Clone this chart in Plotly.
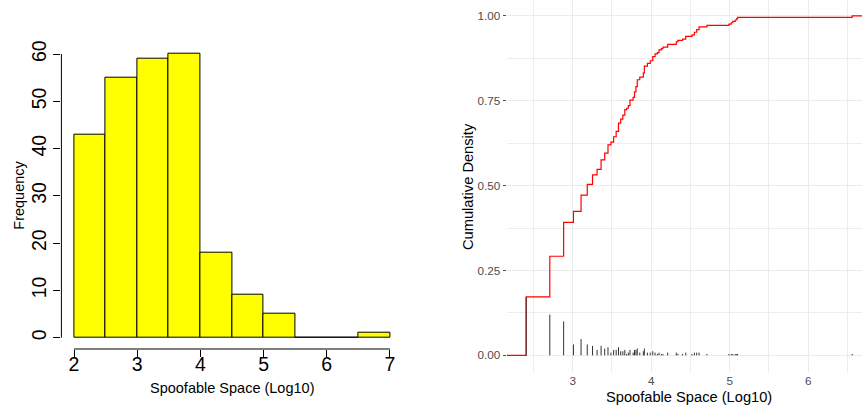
import numpy as np
import plotly.graph_objects as go

# ---- data: unique log10 spoofable-space values and how many prefixes have each ----
space_log10 = [2.408, 2.709, 2.885, 3.010, 3.107, 3.186, 3.253, 3.311, 3.362, 3.408,
               3.450, 3.487, 3.522, 3.554, 3.584, 3.612, 3.639, 3.664, 3.687, 3.709,
               3.730, 3.770, 3.788, 3.806, 3.823, 3.855, 3.900, 3.913, 3.952, 3.988,
               4.02, 4.05, 4.08, 4.10, 4.13, 4.15, 4.21, 4.32, 4.34, 4.40,
               4.44, 4.52, 4.55, 4.58, 4.61, 4.71, 4.99, 5.02, 5.04, 5.07,
               5.09, 5.10, 6.56]
space_count = [43, 30, 25, 8, 12, 8, 7, 4, 7, 5,
               6, 2, 4, 4, 6, 3, 3, 4, 1, 2,
               4, 2, 4, 4, 5, 2, 3, 5, 2, 2,
               3, 2, 1, 2, 1, 1, 2, 2, 1, 1,
               2, 1, 2, 2, 2, 1, 1, 1, 1, 1,
               1, 1, 1]
hist_breaks = [2, 2.5, 3, 3.5, 4, 4.5, 5, 5.5, 6, 6.5, 7]
hist_yticks = [0, 10, 20, 30, 40, 50, 60]
hist_xticks = [2, 3, 4, 5, 6, 7]
ecdf_yticks = [0, 0.25, 0.5, 0.75, 1.0]
ecdf_ylabels = ["0.00", "0.25", "0.50", "0.75", "1.00"]
ecdf_xticks = [3, 4, 5, 6]

vals = np.array(space_log10)
cnts = np.array(space_count)
n = cnts.sum()
hist_counts, _ = np.histogram(np.repeat(vals, cnts), bins=hist_breaks)
mids = [(a + b) / 2 for a, b in zip(hist_breaks[:-1], hist_breaks[1:])]
cum = np.cumsum(cnts) / n
mass = cnts / n

W, H = 862, 409
def fx(px): return px / W
def fy(py): return 1 - py / H

FONT = "Liberation Sans, Arial, sans-serif"
x2_range = [2.16, 6.685]
y2_range = [-0.05, 1.047]

fig = go.Figure()

# left: histogram
fig.add_trace(go.Bar(x=mids, y=hist_counts, width=0.5,
                     marker=dict(color="#FFFF00", line=dict(color="black", width=1)),
                     xaxis="x", yaxis="y", showlegend=False))

# right: ECDF step line
ex = [x2_range[0]] + list(vals) + [x2_range[1]]
ey = [0] + list(cum) + [1]
fig.add_trace(go.Scatter(x=ex, y=ey, mode="lines", line=dict(color="#FF0000", width=1.2, shape="hv"),
                         xaxis="x2", yaxis="y2", showlegend=False))
# right: probability-mass spikes
sx, sy = [], []
for v, m in zip(vals, mass):
    sx += [v, v, None]
    sy += [0, m, None]
fig.add_trace(go.Scatter(x=sx, y=sy, mode="lines", line=dict(color="#333333", width=1),
                         xaxis="x2", yaxis="y2", showlegend=False))

xd1 = [fx(61.4), fx(402.6)]
yd1 = [fy(349), fy(42.7)]
xd2 = [fx(506.7), 1.0]
yd2 = [fy(372.3), 1.0]

fig.update_layout(
    width=W, height=H, margin=dict(l=0, r=0, t=0, b=0),
    paper_bgcolor="white", plot_bgcolor="white",
    font=dict(family=FONT, color="black"),
    bargap=0,
    xaxis=dict(domain=xd1, range=[1.8, 7.2], tickvals=hist_xticks, ticks="outside", ticklen=7,
               tickcolor="black", tickwidth=1, showgrid=False, zeroline=False, showline=False,
               ticklabelstandoff=-9,
               tickfont=dict(size=19.5, color="black"), anchor="y", automargin=False),
    yaxis=dict(domain=yd1, range=[-2.4, 62.4], tickvals=hist_yticks, ticks="outside", ticklen=7,
               tickcolor="black", tickwidth=1, showgrid=False, zeroline=False, showline=False,
               tickangle=-90, tickfont=dict(size=19.5, color="black"), anchor="x", automargin=False),
    xaxis2=dict(domain=xd2, range=x2_range, tickvals=ecdf_xticks, ticks="", showgrid=True,
                gridcolor="#EBEBEB", gridwidth=1.4, zeroline=False, showline=False,
                minor=dict(dtick=0.5, tick0=0, showgrid=True, gridcolor="#EDEDED", gridwidth=0.9),
                tickfont=dict(size=11.7, color="#4D4D4D"), anchor="y2", automargin=False),
    yaxis2=dict(domain=yd2, range=y2_range, tickvals=ecdf_yticks, ticktext=ecdf_ylabels,
                ticks="outside", ticklen=3, tickcolor="#4D4D4D", tickwidth=1,
                showgrid=True, gridcolor="#EBEBEB", gridwidth=1.4, zeroline=False, showline=False,
                minor=dict(dtick=0.125, tick0=0, showgrid=True, gridcolor="#EDEDED", gridwidth=0.9),
                tickfont=dict(size=11.7, color="#4D4D4D"), anchor="x2", automargin=False),
)

# base-R style axis lines spanning only the tick range
fig.add_shape(type="line", xref="x", yref="paper", x0=hist_xticks[0], x1=hist_xticks[-1],
              y0=yd1[0], y1=yd1[0], line=dict(color="black", width=1))
fig.add_shape(type="line", xref="paper", yref="y", x0=xd1[0], x1=xd1[0],
              y0=hist_yticks[0], y1=hist_yticks[-1], line=dict(color="black", width=1))

ann = [
    dict(text="Frequency", x=fx(19), y=fy(195.7), textangle=-90, font=dict(size=14.5, color="black")),
    dict(text="Spoofable Space (Log10)", x=fx(232), y=fy(388), font=dict(size=14.5, color="black")),
    dict(text="Cumulative Density", x=fx(468), y=fy(187), textangle=-90, font=dict(size=14.67, color="black")),
    dict(text="Spoofable Space (Log10)", x=fx(689), y=fy(397), font=dict(size=14.67, color="black")),
]
for a in ann:
    fig.add_annotation(xref="paper", yref="paper", showarrow=False, xanchor="center", yanchor="middle", **a)

fig.write_html("out.html", config={"displayModeBar": False},
               post_script="document.body.style.margin='0px';document.body.style.overflow='hidden';")
